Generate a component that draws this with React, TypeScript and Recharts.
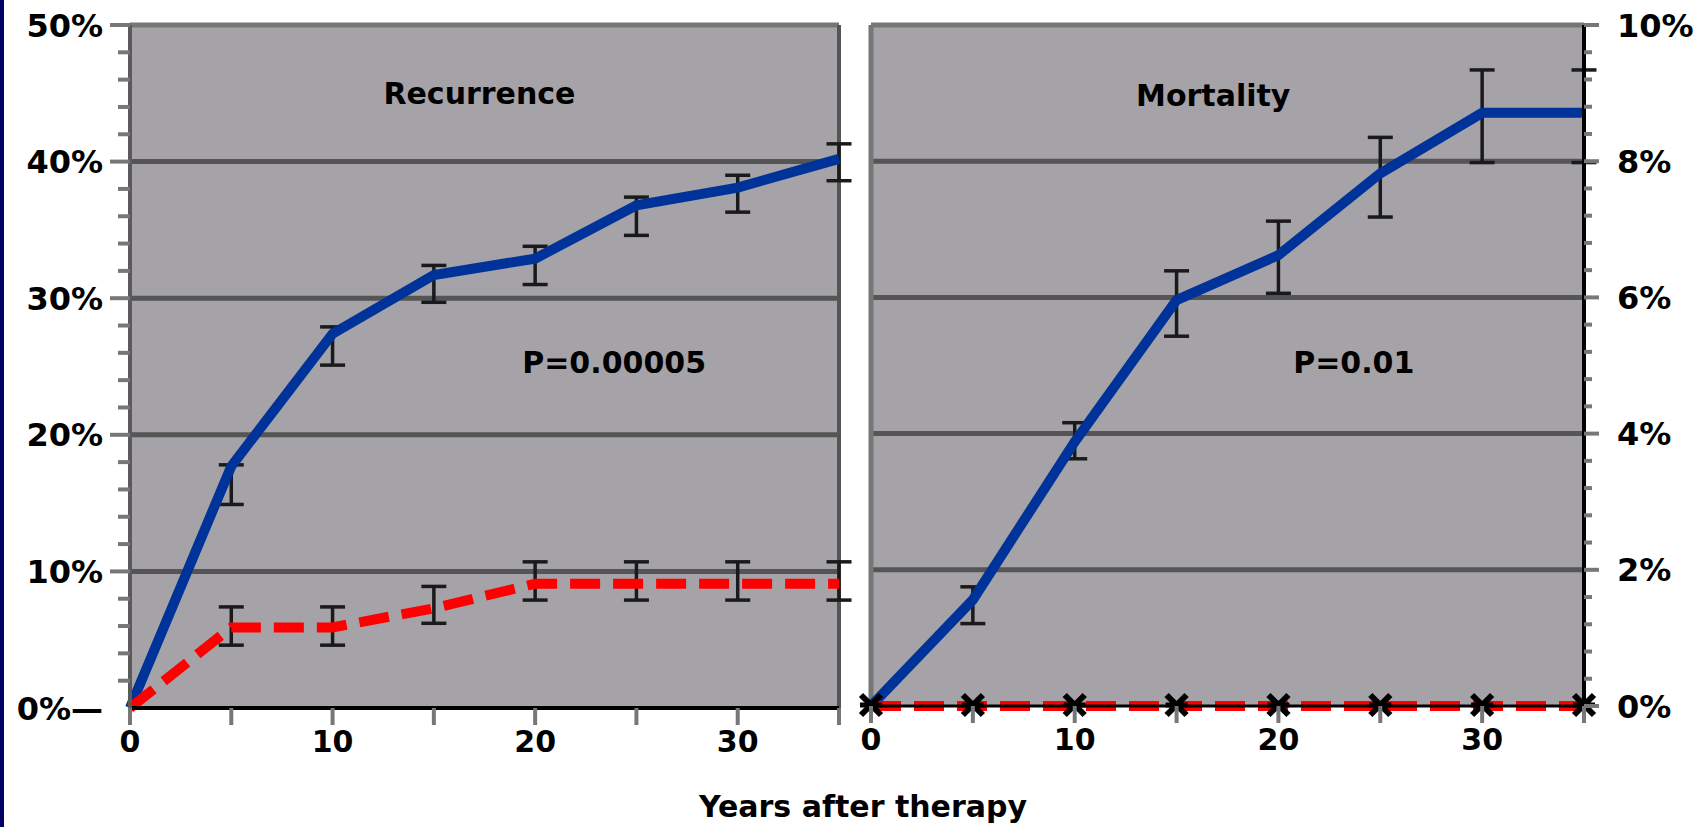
import React from 'react';
import {
  ComposedChart,
  Line,
  XAxis,
  YAxis,
  CartesianGrid,
  ErrorBar,
  ReferenceLine,
  ReferenceDot,
} from 'recharts';

const FONT = '"DejaVu Sans", Verdana, sans-serif';

// years after therapy
const years = [0, 5, 10, 15, 20, 25, 30, 35];
const xTicks = [0, 5, 10, 15, 20, 25, 30, 35];

// recurrence (%), blue solid + red dashed
const recurBlue = [0, 17.7, 27.4, 31.7, 32.9, 36.8, 38.1, 40.2];
const recurBlueLow = [null, 14.9, 25.1, 29.7, 31.0, 34.6, 36.3, 38.6];
const recurBlueHigh = [null, 17.8, 27.9, 32.4, 33.8, 37.4, 39.0, 41.3];
const recurRed = [0, 5.9, 5.9, 7.3, 9.1, 9.1, 9.1, 9.1];
const recurRedLow = [null, 4.6, 4.6, 6.2, 7.9, 7.9, 7.9, 7.9];
const recurRedHigh = [null, 7.4, 7.4, 8.9, 10.7, 10.7, 10.7, 10.7];

// mortality (%)
const mortBlue = [0, 1.56, 3.88, 5.96, 6.62, 7.82, 8.71, 8.71];
const mortBlueLow = [null, 1.21, 3.63, 5.43, 6.06, 7.18, 7.98, 7.98];
const mortBlueHigh = [null, 1.75, 4.16, 6.39, 7.12, 8.35, 9.34, 9.34];
const mortRed = [0, 0, 0, 0, 0, 0, 0, 0];

// axis ticks
const leftTicks = [0, 2, 4, 6, 8, 10, 12, 14, 16, 18, 20, 22, 24, 26, 28, 30, 32, 34, 36, 38, 40, 42, 44, 46, 48, 50];
const leftGrid = [10, 20, 30, 40];
const rightTicks = [0, 0.4, 0.8, 1.2, 1.6, 2, 2.4, 2.8, 3.2, 3.6, 4, 4.4, 4.8, 5.2, 5.6, 6, 6.4, 6.8, 7.2, 7.6, 8, 8.4, 8.8, 9.2, 9.6, 10];
const rightGrid = [2, 4, 6, 8];

const BLUE = '#003399';
const RED = '#ff0000';
const PLOT_BG = '#a5a3a8';
const GRID = '#555555';
const BORDER = '#777777';

const err = (v: number, lo: number | null, hi: number | null) =>
  lo == null || hi == null ? null : [v - lo, hi - v];

const recurRows = years.map((year, i) => ({
  year,
  blue: recurBlue[i],
  blueErr: err(recurBlue[i], recurBlueLow[i], recurBlueHigh[i]),
  red: recurRed[i],
  redErr: err(recurRed[i], recurRedLow[i], recurRedHigh[i]),
}));

const mortRows = years.map((year, i) => ({
  year,
  blue: mortBlue[i],
  blueErr: err(mortBlue[i], mortBlueLow[i], mortBlueHigh[i]),
  red: mortRed[i],
}));

const textStyle = { fill: '#000', fontWeight: 700, fontSize: 30, fontFamily: FONT } as const;
const yTickStyle = { ...textStyle, fontSize: 32 } as const;

const XTick = (props: any) => {
  const { x, y, payload } = props;
  const v = payload.value;
  return (
    <g>
      <line x1={x} x2={x} y1={y} y2={y + 17} stroke={BORDER} strokeWidth={4} />
      {v % 10 === 0 && (
        <text x={x} y={y + 33} dy="0.36em" textAnchor="middle" {...textStyle}>
          {v}
        </text>
      )}
    </g>
  );
};

const LeftYTick = (props: any) => {
  const { x, y, payload } = props;
  const v = payload.value;
  const major = v % 10 === 0;
  return (
    <g>
      {v !== 0 && (
        <line x1={x - (major ? 20 : 12)} x2={x} y1={y} y2={y} stroke={BORDER} strokeWidth={4} />
      )}
      {major && (
        <text x={x - 27} y={y} dy="0.36em" textAnchor="end" {...yTickStyle}>
          {v === 0 ? '0%\u2014' : `${v}%`}
        </text>
      )}
    </g>
  );
};

const RightYTick = (props: any) => {
  const { x, y, payload } = props;
  const v = payload.value;
  const major = Math.abs(v / 2 - Math.round(v / 2)) < 1e-6;
  return (
    <g>
      <line x1={x} x2={x + (major ? 15 : 8)} y1={y} y2={y} stroke={BORDER} strokeWidth={4} />
      {major && (
        <text x={x + 33} y={y} dy="0.36em" textAnchor="start" {...yTickStyle}>
          {`${Math.round(v)}%`}
        </text>
      )}
    </g>
  );
};

const XMark = (props: any) => {
  const { cx, cy } = props;
  if (cx == null || cy == null) return null;
  return (
    <g stroke="#000" strokeWidth={6}>
      <line x1={cx - 10} y1={cy - 11} x2={cx + 10} y2={cy + 9} />
      <line x1={cx - 10} y1={cy + 9} x2={cx + 10} y2={cy - 11} />
      <line x1={cx - 11} y1={cy - 1} x2={cx + 11} y2={cy - 1} strokeWidth={5} />
    </g>
  );
};

const note = (label: string) => (p: any) => (
  <text x={p.cx} y={p.cy} dy="0.36em" textAnchor="middle" {...textStyle}>
    {label}
  </text>
);

export default function App() {
  return (
    <div style={{ position: 'absolute', left: 0, top: 0, width: 1702, height: 827, background: '#fff', overflow: 'hidden' }}>
      <div style={{ position: 'absolute', left: 0, top: 0, width: 4, height: 827, background: '#000066' }} />

      <div style={{ position: 'absolute', left: 0, top: 0 }}>
        <ComposedChart width={862} height={827} data={recurRows} margin={{ top: 25, right: 23, bottom: 59, left: 0 }}>
          <CartesianGrid horizontal={false} vertical={false} fill={PLOT_BG} />
          {leftGrid.map((g) => (
            <ReferenceLine key={g} y={g} stroke={GRID} strokeWidth={5} />
          ))}
          <ReferenceLine y={50} stroke={BORDER} strokeWidth={5} />
          <ReferenceLine x={35} stroke={GRID} strokeWidth={4} />
          <XAxis
            type="number"
            dataKey="year"
            domain={[0, 35]}
            ticks={xTicks}
            interval={0}
            tickSize={0}
            tickMargin={0}
            tickLine={false}
            axisLine={{ stroke: '#000', strokeWidth: 4 }}
            tick={<XTick />}
            height={60}
          />
          <YAxis
            type="number"
            domain={[0, 50]}
            ticks={leftTicks}
            interval={0}
            tickSize={0}
            tickMargin={0}
            tickLine={false}
            axisLine={{ stroke: '#5a5a5a', strokeWidth: 4 }}
            tick={<LeftYTick />}
            width={130}
          />
          <ReferenceDot x={17.25} y={45} r={0} shape={note('Recurrence')} />
          <ReferenceDot x={23.9} y={25.3} r={0} shape={note('P=0.00005')} />
          <Line type="linear" dataKey="blue" stroke={BLUE} strokeWidth={10} dot={false} isAnimationActive={false}>
            <ErrorBar dataKey="blueErr" direction="y" width={12.5} stroke="#1a1a1a" strokeWidth={3.5} />
          </Line>
          <Line
            type="linear"
            dataKey="red"
            stroke={RED}
            strokeWidth={10}
            strokeDasharray="30 13"
            dot={false}
            isAnimationActive={false}
          >
            <ErrorBar dataKey="redErr" direction="y" width={12.5} stroke="#1a1a1a" strokeWidth={3.5} />
          </Line>
        </ComposedChart>
      </div>

      <div style={{ position: 'absolute', left: 856, top: 0 }}>
        <ComposedChart width={846} height={827} data={mortRows} margin={{ top: 25, right: 0, bottom: 61, left: 15 }}>
          <CartesianGrid horizontal={false} vertical={false} fill={PLOT_BG} />
          {rightGrid.map((g) => (
            <ReferenceLine key={g} y={g} stroke={GRID} strokeWidth={5} />
          ))}
          <ReferenceLine y={10} stroke={BORDER} strokeWidth={5} />
          <ReferenceLine x={0} stroke={BORDER} strokeWidth={5} />
          <XAxis
            type="number"
            dataKey="year"
            domain={[0, 35]}
            ticks={xTicks}
            interval={0}
            tickSize={0}
            tickMargin={0}
            tickLine={false}
            axisLine={{ stroke: '#000', strokeWidth: 3 }}
            tick={<XTick />}
            height={60}
          />
          <YAxis
            type="number"
            orientation="right"
            domain={[0, 10]}
            ticks={rightTicks}
            interval={0}
            tickSize={0}
            tickMargin={0}
            tickLine={false}
            axisLine={{ stroke: '#000', strokeWidth: 4 }}
            tick={<RightYTick />}
            width={118}
          />
          <ReferenceDot x={16.8} y={8.97} r={0} shape={note('Mortality')} />
          <ReferenceDot x={23.7} y={5.05} r={0} shape={note('P=0.01')} />
          <Line type="linear" dataKey="blue" stroke={BLUE} strokeWidth={10} dot={false} isAnimationActive={false}>
            <ErrorBar dataKey="blueErr" direction="y" width={12.5} stroke="#1a1a1a" strokeWidth={3.5} />
          </Line>
          <Line
            type="linear"
            dataKey="red"
            stroke={RED}
            strokeWidth={10}
            strokeDasharray="30 13"
            dot={<XMark />}
            isAnimationActive={false}
          />
        </ComposedChart>
      </div>

      <div
        style={{
          position: 'absolute',
          left: 563,
          top: 789,
          width: 600,
          height: 36,
          lineHeight: '36px',
          textAlign: 'center',
          fontFamily: FONT,
          fontWeight: 700,
          fontSize: 30,
          color: '#000',
        }}
      >
        Years after therapy
      </div>
    </div>
  );
}
